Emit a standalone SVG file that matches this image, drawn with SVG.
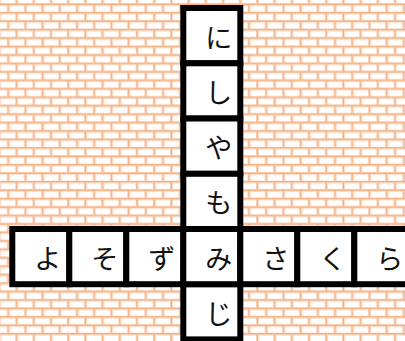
<svg xmlns="http://www.w3.org/2000/svg" width="405" height="341" viewBox="0 0 405 341">
  <defs>
    <pattern id="brick" patternUnits="userSpaceOnUse" x="0" y="0" width="17.2" height="16.9">
      <rect width="17.2" height="16.9" fill="#ffffff"/>
      <!-- soft highlights -->
      <rect x="0" y="5.1" width="17.2" height="1.2" fill="#fde6d6"/>
      <rect x="0" y="13.55" width="17.2" height="1.2" fill="#fde6d6"/>
      <rect x="9" y="5.1" width="1.2" height="7.5" fill="#fde6d6"/>
      <rect x="0.2" y="13.55" width="1.2" height="3.35" fill="#fde6d6"/>
      <rect x="0.2" y="0" width="1.2" height="3.3" fill="#fde6d6"/>
      <!-- mortar -->
      <rect x="0" y="3.3" width="17.2" height="1.8" fill="#f4b183"/>
      <rect x="0" y="11.75" width="17.2" height="1.8" fill="#f4b183"/>
      <rect x="7.2" y="5.1" width="1.8" height="6.65" fill="#f4b183"/>
      <rect x="15.6" y="13.55" width="1.8" height="3.35" fill="#f4b183"/>
      <rect x="-1.6" y="13.55" width="1.8" height="3.35" fill="#f4b183"/>
      <rect x="15.6" y="0" width="1.8" height="3.3" fill="#f4b183"/>
      <rect x="-1.6" y="0" width="1.8" height="3.3" fill="#f4b183"/>
    </pattern>
    <style>
      .cell { fill: #ffffff; stroke: #000000; stroke-width: 6; }
      .ch { font-family: "Noto Sans CJK JP", "Noto Sans", sans-serif; font-size: 27px; fill: #111111; text-anchor: middle; }
    </style>
  </defs>
  <rect width="405" height="341" fill="url(#brick)"/>

  <g id="connectors"></g>

  <!-- vertical column -->
  <g id="cell-ni">
    <rect class="cell" x="183.3" y="8" width="57" height="55.3"/>
    <text class="ch" x="218.8" y="47.5">に</text>
  </g>
  <g id="cell-shi">
    <rect class="cell" x="183.3" y="63.3" width="57" height="55.2"/>
    <text class="ch" x="218.8" y="102.8">し</text>
  </g>
  <g id="cell-ya">
    <rect class="cell" x="183.3" y="118.5" width="57" height="55.3"/>
    <text class="ch" x="218.8" y="158">や</text>
  </g>
  <g id="cell-mo">
    <rect class="cell" x="183.3" y="173.8" width="57" height="55.2"/>
    <text class="ch" x="218.8" y="213.3">も</text>
  </g>
  <g id="cell-ji">
    <rect class="cell" x="183.3" y="284.2" width="57" height="55.2"/>
    <text class="ch" x="218.8" y="323.7">じ</text>
  </g>

  <!-- horizontal row -->
  <g id="cell-yo">
    <rect class="cell" x="12.3" y="229" width="57" height="55.2"/>
    <text class="ch" x="47.8" y="268.5">よ</text>
  </g>
  <g id="cell-so">
    <rect class="cell" x="69.3" y="229" width="57" height="55.2"/>
    <text class="ch" x="104.8" y="268.5">そ</text>
  </g>
  <g id="cell-zu">
    <rect class="cell" x="126.3" y="229" width="57" height="55.2"/>
    <text class="ch" x="161.8" y="268.5">ず</text>
  </g>
  <g id="cell-mi">
    <rect class="cell" x="183.3" y="229" width="57" height="55.2"/>
    <text class="ch" x="218.8" y="268.5">み</text>
  </g>
  <g id="cell-sa">
    <rect class="cell" x="240.3" y="229" width="57" height="55.2"/>
    <text class="ch" x="275.8" y="268.5">さ</text>
  </g>
  <g id="cell-ku">
    <rect class="cell" x="297.3" y="229" width="57" height="55.2"/>
    <text class="ch" x="332.8" y="268.5">く</text>
  </g>
  <g id="cell-ra">
    <rect class="cell" x="354.3" y="229" width="57" height="55.2"/>
    <text class="ch" x="389.8" y="268.5">ら</text>
  </g>
</svg>
